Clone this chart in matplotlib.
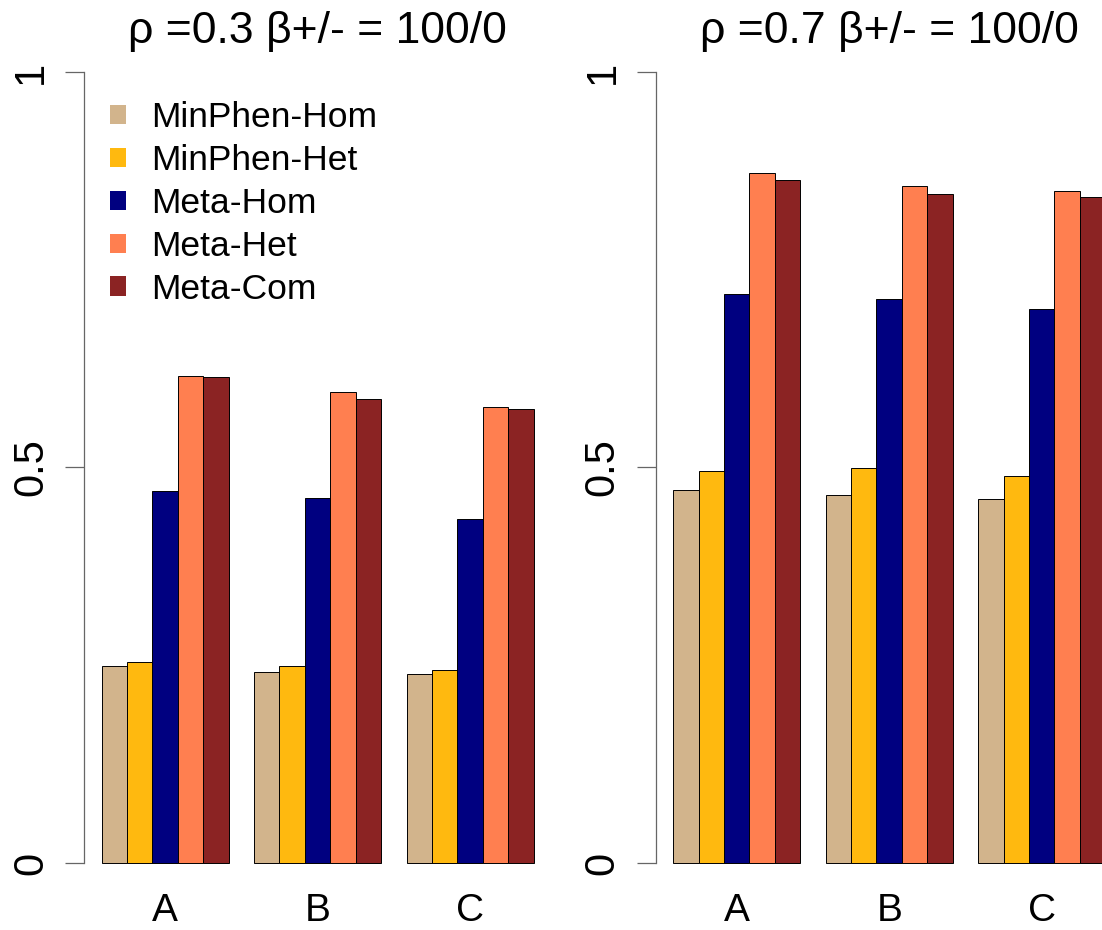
import numpy as np
import matplotlib
matplotlib.use("Agg")
import matplotlib.pyplot as plt
from matplotlib.patches import Patch

plt.rcParams['font.family'] = ['Liberation Sans', 'DejaVu Sans']

groups = ['A', 'B', 'C']
series = ['MinPhen-Hom', 'MinPhen-Het', 'Meta-Hom', 'Meta-Het', 'Meta-Com']
colors = ['#D2B48C', '#FFB90F', '#000080', '#FF7F50', '#8B2323']

titles = [r'ρ =0.3 β+/- = 100/0', r'ρ =0.7 β+/- = 100/0']

# rows = series, cols = groups A, B, C
vals_rho03 = [
    [0.249, 0.242, 0.239],   # MinPhen-Hom
    [0.254, 0.249, 0.244],   # MinPhen-Het
    [0.470, 0.461, 0.435],   # Meta-Hom
    [0.616, 0.596, 0.576],   # Meta-Het
    [0.615, 0.587, 0.574],   # Meta-Com
]
vals_rho07 = [
    [0.471, 0.465, 0.460],
    [0.496, 0.499, 0.489],
    [0.719, 0.713, 0.701],
    [0.872, 0.856, 0.849],
    [0.864, 0.846, 0.842],
]

fig = plt.figure(figsize=(11.02, 9.3), dpi=100)
ax_w = 466.4 / 1102
ax_h = 854.2 / 930
ax_b = (930 - 894.6) / 930
lefts = [84.4 / 1102, 656 / 1102]

for i, (vals, title) in enumerate([(vals_rho03, titles[0]), (vals_rho07, titles[1])]):
    ax = fig.add_axes([lefts[i], ax_b, ax_w, ax_h])
    ns = len(series)
    for k in range(ns):
        # R barplot beside=TRUE layout: one-bar gap before each group
        xs = np.arange(len(groups)) * (ns + 1) + 1 + k + 0.5
        ax.bar(xs, vals[k], width=1.0, color=colors[k], edgecolor='black',
               linewidth=0.7, label=series[k])
    centers = np.arange(len(groups)) * (ns + 1) + 1 + ns / 2
    ax.set_xticks(centers)
    ax.set_xticklabels(groups, fontsize=28)
    ax.tick_params(axis='x', length=0, pad=-1)
    ax.set_xlim(0.32, 18.68)
    ax.set_ylim(-0.04, 1.04)
    ax.set_yticks([0, 0.5, 1])
    ax.set_yticklabels(['0', '0.5', '1'], fontsize=30, rotation=90, va='center')
    ax.tick_params(axis='y', length=13.5, width=0.9, color='#666666', pad=10.5)
    for s in ['top', 'right', 'bottom']:
        ax.spines[s].set_visible(False)
    ax.spines['left'].set_bounds(0, 1)
    ax.spines['left'].set_color('#666666')
    ax.spines['left'].set_linewidth(0.9)
    ax.set_title(title, fontsize=32, y=1.0, pad=-2)
    if i == 0:
        handles = [Patch(facecolor=c, edgecolor='none') for c in colors]
        ax.legend(handles, series, loc='upper left', bbox_to_anchor=(0.055, 0.929),
                  frameon=False, fontsize=25.5, borderpad=0, borderaxespad=0,
                  handlelength=0.46, handleheight=0.46, handletextpad=0.7,
                  labelspacing=0.28)

fig.savefig('out.png', dpi=100)
